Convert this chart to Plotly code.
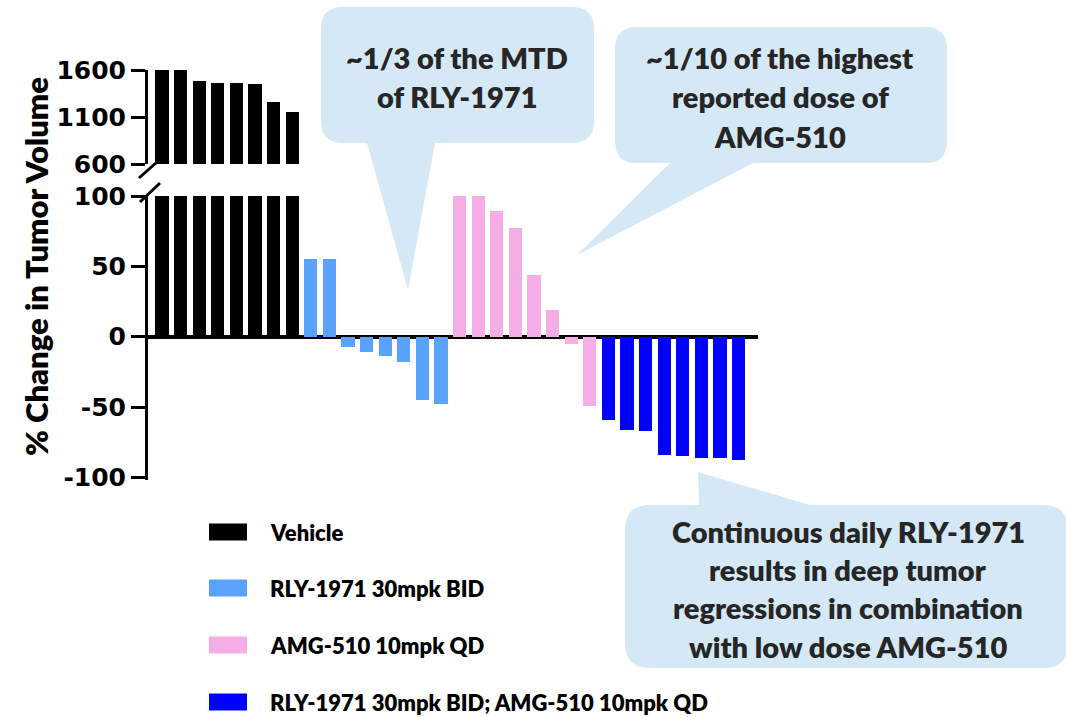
import plotly.graph_objects as go

W, H = 1066, 717

# ---------------- data ----------------
groups = ["Vehicle", "RLY-1971 30mpk BID", "AMG-510 10mpk QD",
          "RLY-1971 30mpk BID; AMG-510 10mpk QD"]
colors = ["#000000", "#59A3FC", "#F5ADE6", "#0000FF"]
vehicle = [1598, 1598, 1488, 1463, 1463, 1448, 1260, 1150]
rly1971 = [55, 55, -7, -11, -14, -18, -45, -48]
amg510 = [100, 100, 89, 77, 44, 19, -5, -49]
combo = [-59, -66, -67, -84, -85, -86, -86.5, -87.5]
series = [vehicle, rly1971, amg510, combo]
lower_ticks = [-100, -50, 0, 50, 100]
upper_ticks = [600, 1100, 1600]

callout1 = ["~1/3 of the MTD", "of RLY-1971"]
callout2 = ["~1/10 of the highest", "reported dose of", "AMG-510"]
callout3 = ["Continuous daily RLY-1971", "results in deep tumor",
            "regressions in combination", "with low dose AMG-510"]


def PX(x):
    return x / W


def PY(y):
    return 1 - y / H


fig = go.Figure()

idx = 0
for g, vals, col in zip(groups, series, colors):
    xs = list(range(idx, idx + len(vals)))
    idx += len(vals)
    fig.add_trace(go.Bar(x=xs, y=vals, marker=dict(color=col, line=dict(width=0)),
                         width=0.7, name=g, showlegend=False, hoverinfo="skip",
                         xaxis="x", yaxis="y"))
    if g == "Vehicle":
        fig.add_trace(go.Bar(x=xs, y=vals, marker=dict(color=col, line=dict(width=0)),
                             width=0.7, name=g, showlegend=False, hoverinfo="skip",
                             xaxis="x2", yaxis="y2"))

# axis geometry (pixels)
x_left_px, x_right_px = 148, 758
c0, step = 162, 18.6
xr = [(x_left_px - c0) / step, (x_right_px - c0) / step]

low_top, low_bot, zero_px = 196, 480, 336.7
ppu = (zero_px - low_top) / 100.0
low_range = [-(low_bot - zero_px) / ppu, 100]

up_top, up_bot = 70, 164

tickfont = dict(family="DejaVu Sans", size=25, color="black", weight="bold")

fig.update_layout(
    template="none",
    width=W, height=H, autosize=False,
    margin=dict(l=0, r=0, t=0, b=0, pad=0, autoexpand=False),
    paper_bgcolor="white", plot_bgcolor="rgba(0,0,0,0)",
    bargap=0, showlegend=False,
    xaxis=dict(domain=[PX(x_left_px), PX(x_right_px)], range=xr, visible=False,
               fixedrange=True, automargin=False),
    xaxis2=dict(domain=[PX(x_left_px), PX(x_right_px)], range=xr, visible=False,
                anchor="y2", fixedrange=True, automargin=False),
    yaxis=dict(domain=[PY(low_bot), PY(low_top)], range=low_range,
               tickvals=lower_ticks, ticktext=[str(v) for v in lower_ticks],
               showline=True, linecolor="black", linewidth=3,
               ticks="outside", ticklen=14, tickwidth=3, tickcolor="black",
               showgrid=False, zeroline=True, zerolinecolor="black", zerolinewidth=4,
               tickfont=tickfont, anchor="x", fixedrange=True, automargin=False),
    yaxis2=dict(domain=[PY(up_bot), PY(up_top)], range=[600, 1600],
                tickvals=upper_ticks, ticktext=[str(v) for v in upper_ticks],
                showline=True, linecolor="black", linewidth=3,
                ticks="outside", ticklen=14, tickwidth=3, tickcolor="black",
                showgrid=False, zeroline=False,
                tickfont=tickfont, anchor="x2", fixedrange=True, automargin=False),
)

shapes = []
# axis break slashes
for (x0, y0, x1, y1) in [(139, 178, 157, 162), (140, 202, 160, 183)]:
    shapes.append(dict(type="line", xref="paper", yref="paper",
                       x0=PX(x0), y0=PY(y0), x1=PX(x1), y1=PY(y1),
                       line=dict(color="black", width=3)))


def path(cmds):
    out = []
    for c in cmds:
        if c[0] == "Z":
            out.append("Z")
        elif c[0] == "Q":
            out.append("Q %.5f,%.5f %.5f,%.5f" % (PX(c[1]), PY(c[2]), PX(c[3]), PY(c[4])))
        else:
            out.append("%s %.5f,%.5f" % (c[0], PX(c[1]), PY(c[2])))
    return " ".join(out)


bubble_fill = "#D5E8F6"
b1 = [("M", 343, 7), ("L", 572, 7), ("Q", 594, 7, 594, 29), ("L", 594, 121),
      ("Q", 594, 143, 572, 143), ("L", 435, 143), ("L", 408, 290), ("L", 367, 143),
      ("L", 343, 143), ("Q", 321, 143, 321, 121), ("L", 321, 29),
      ("Q", 321, 7, 343, 7), ("Z",)]
b2 = [("M", 637, 27), ("L", 925, 27), ("Q", 947, 27, 947, 49), ("L", 947, 141),
      ("Q", 947, 163, 925, 163), ("L", 753, 163), ("L", 577, 255), ("L", 670, 163),
      ("L", 637, 163), ("Q", 615, 163, 615, 141), ("L", 615, 49),
      ("Q", 615, 27, 637, 27), ("Z",)]
b3 = [("M", 650, 505), ("L", 699, 505), ("L", 698, 472), ("L", 810, 505),
      ("L", 1043, 505), ("Q", 1068, 505, 1068, 530), ("L", 1068, 643),
      ("Q", 1068, 668, 1043, 668), ("L", 650, 668), ("Q", 625, 668, 625, 643),
      ("L", 625, 530), ("Q", 625, 505, 650, 505), ("Z",)]
for b in (b1, b2, b3):
    shapes.append(dict(type="path", xref="paper", yref="paper", path=path(b),
                       fillcolor=bubble_fill, line=dict(width=0), layer="above"))

# legend swatches
leg_y = [532, 588, 645, 702]
for col, yc in zip(colors, leg_y):
    shapes.append(dict(type="rect", xref="paper", yref="paper",
                       x0=PX(209), x1=PX(247), y0=PY(yc - 8.5), y1=PY(yc + 8.5),
                       fillcolor=col, line=dict(width=0)))

annotations = []
txt_font = dict(family="Lato", size=29, color="#262626", weight=800)


def add_lines(lines, xc, ys, font):
    for t, yy in zip(lines, ys):
        annotations.append(dict(text=t, xref="paper", yref="paper", x=PX(xc), y=PY(yy),
                                xanchor="center", yanchor="middle", showarrow=False,
                                font=font))


add_lines(callout1, 457, [57, 97], txt_font)
add_lines(callout2, 780, [58, 97, 136], txt_font)
add_lines(callout3, 848, [531, 569, 607, 646], txt_font)

leg_font = dict(family="Lato", size=22, color="black", weight=800)
for g, yc in zip(groups, leg_y):
    annotations.append(dict(text=g, xref="paper", yref="paper", x=PX(268), y=PY(yc),
                            xanchor="left", yanchor="middle", showarrow=False,
                            font=leg_font))

annotations.append(dict(text="% Change in Tumor Volume", xref="paper", yref="paper",
                        x=PX(36), y=PY(267), xanchor="center", yanchor="middle",
                        textangle=-90, showarrow=False,
                        font=dict(family="Lato", size=31, color="black", weight=800)))

fig.update_layout(shapes=shapes, annotations=annotations)

fig.write_html("out.html",
               config={"displayModeBar": False, "staticPlot": True},
               post_script="document.body.style.margin='0';"
                           "document.body.style.overflow='hidden';")
